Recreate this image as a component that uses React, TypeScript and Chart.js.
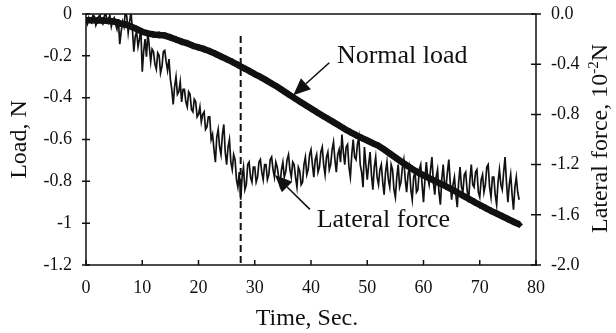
import React, { useEffect, useRef } from "react";
import { Chart, registerables } from "chart.js";

Chart.register(...registerables);

// ---------- data ----------
const normalTime = [
  0, 1, 2, 3, 4, 5, 6, 7, 8, 9,
  10, 11, 12, 13, 14, 15, 16, 17, 18, 19,
  20, 21, 22, 23, 24, 25, 26, 27, 28, 29,
  30, 31, 32, 33, 34, 35, 36, 37, 38, 39,
  40, 41, 42, 43, 44, 45, 46, 47, 48, 49,
  50, 51, 52, 53, 54, 55, 56, 57, 58, 59,
  60, 61, 62, 63, 64, 65, 66, 67, 68, 69,
  70, 71, 72, 73, 74, 75, 76, 77,
];
// Load, N (left axis)
const normalLoad = [
  -0.03, -0.03, -0.031, -0.031, -0.033, -0.036, -0.045, -0.05, -0.06, -0.072,
  -0.085, -0.093, -0.098, -0.1, -0.103, -0.112, -0.122, -0.132, -0.14, -0.152,
  -0.16, -0.168, -0.178, -0.19, -0.203, -0.216, -0.229, -0.243, -0.258, -0.272,
  -0.287, -0.301, -0.316, -0.332, -0.348, -0.366, -0.384, -0.401, -0.418, -0.435,
  -0.452, -0.469, -0.485, -0.501, -0.517, -0.533, -0.55, -0.565, -0.579, -0.592,
  -0.605, -0.618, -0.63, -0.648, -0.667, -0.686, -0.705, -0.723, -0.741, -0.757,
  -0.771, -0.785, -0.798, -0.811, -0.824, -0.838, -0.853, -0.868, -0.883, -0.898,
  -0.913, -0.927, -0.941, -0.954, -0.967, -0.98, -0.993, -1.006,
];

const lateralTime = [
  0, 0.25, 0.5, 0.75, 1, 1.25, 1.5, 1.75, 2, 2.25, 2.5, 2.75, 3, 3.25, 3.5, 3.75, 4, 4.25, 4.5, 4.75,
  5, 5.25, 5.5, 5.75, 6, 6.25, 6.5, 6.75, 7, 7.25, 7.5, 7.75, 8, 8.25, 8.5, 8.75, 9, 9.25, 9.5, 9.75,
  10, 10.25, 10.5, 10.75, 11, 11.25, 11.5, 11.75, 12, 12.25, 12.5, 12.75, 13, 13.25, 13.5, 13.75, 14, 14.25, 14.5, 14.75,
  15, 15.25, 15.5, 15.75, 16, 16.25, 16.5, 16.75, 17, 17.25, 17.5, 17.75, 18, 18.25, 18.5, 18.75, 19, 19.25, 19.5, 19.75,
  20, 20.25, 20.5, 20.75, 21, 21.25, 21.5, 21.75, 22, 22.25, 22.5, 22.75, 23, 23.25, 23.5, 23.75, 24, 24.25, 24.5, 24.75,
  25, 25.25, 25.5, 25.75, 26, 26.25, 26.5, 26.75, 27, 27.25, 27.5, 27.75, 28, 28.25, 28.5, 28.75, 29, 29.25, 29.5, 29.75,
  30, 30.25, 30.5, 30.75, 31, 31.25, 31.5, 31.75, 32, 32.25, 32.5, 32.75, 33, 33.25, 33.5, 33.75, 34, 34.25, 34.5, 34.75,
  35, 35.25, 35.5, 35.75, 36, 36.25, 36.5, 36.75, 37, 37.25, 37.5, 37.75, 38, 38.25, 38.5, 38.75, 39, 39.25, 39.5, 39.75,
  40, 40.25, 40.5, 40.75, 41, 41.25, 41.5, 41.75, 42, 42.25, 42.5, 42.75, 43, 43.25, 43.5, 43.75, 44, 44.25, 44.5, 44.75,
  45, 45.25, 45.5, 45.75, 46, 46.25, 46.5, 46.75, 47, 47.25, 47.5, 47.75, 48, 48.25, 48.5, 48.75, 49, 49.25, 49.5, 49.75,
  50, 50.25, 50.5, 50.75, 51, 51.25, 51.5, 51.75, 52, 52.25, 52.5, 52.75, 53, 53.25, 53.5, 53.75, 54, 54.25, 54.5, 54.75,
  55, 55.25, 55.5, 55.75, 56, 56.25, 56.5, 56.75, 57, 57.25, 57.5, 57.75, 58, 58.25, 58.5, 58.75, 59, 59.25, 59.5, 59.75,
  60, 60.25, 60.5, 60.75, 61, 61.25, 61.5, 61.75, 62, 62.25, 62.5, 62.75, 63, 63.25, 63.5, 63.75, 64, 64.25, 64.5, 64.75,
  65, 65.25, 65.5, 65.75, 66, 66.25, 66.5, 66.75, 67, 67.25, 67.5, 67.75, 68, 68.25, 68.5, 68.75, 69, 69.25, 69.5, 69.75,
  70, 70.25, 70.5, 70.75, 71, 71.25, 71.5, 71.75, 72, 72.25, 72.5, 72.75, 73, 73.25, 73.5, 73.75, 74, 74.25, 74.5, 74.75,
  75, 75.25, 75.5, 75.75, 76, 76.25, 76.5, 76.75, 77,
];
// Lateral force, 10^-2 N (right axis)
const lateralForce = [
  -0.05, -0.08, -0.03, -0.06, -0.07, -0.01, -0.02, -0.09, -0.06, -0.02, -0.01, -0.07, -0.08, -0.02, 0.01, -0.06, -0.04, -0.01, -0.1, -0.05,
  -0.03, -0.08, -0.12, -0.04, -0.24, -0.14, -0.06, -0.1, 0.02, -0.02, -0.15, -0.06, 0.01, -0.12, -0.3, -0.18, -0.14, -0.26, -0.2, -0.12,
  -0.46, -0.3, -0.2, -0.34, -0.15, -0.26, -0.38, -0.28, -0.3, -0.4, -0.44, -0.31, -0.33, -0.47, -0.42, -0.3, -0.29, -0.38, -0.45, -0.36,
  -0.52, -0.6, -0.72, -0.58, -0.5, -0.64, -0.62, -0.54, -0.7, -0.6, -0.6, -0.7, -0.74, -0.62, -0.64, -0.76, -0.78, -0.68, -0.7, -0.82,
  -0.8, -0.74, -0.86, -0.8, -0.78, -0.92, -0.9, -0.82, -0.82, -1.0, -0.96, -1.08, -1.18, -0.98, -0.92, -1.06, -1.12, -0.96, -0.88, -1.1,
  -1.2, -1.06, -1.0, -1.18, -1.24, -1.12, -1.16, -1.32, -1.38, -1.26, -1.48, -1.3, -1.22, -1.4, -1.36, -1.2, -1.18, -1.3, -1.34, -1.22,
  -1.22, -1.34, -1.3, -1.18, -1.16, -1.26, -1.32, -1.2, -1.2, -1.32, -1.28, -1.16, -1.14, -1.24, -1.3, -1.18, -1.22, -1.3, -1.36, -1.24,
  -1.18, -1.3, -1.26, -1.16, -1.12, -1.24, -1.3, -1.18, -1.2, -1.3, -1.38, -1.22, -1.25, -1.36, -1.34, -1.2, -1.14, -1.28, -1.24, -1.12,
  -1.08, -1.2, -1.3, -1.16, -1.12, -1.26, -1.22, -1.1, -1.06, -1.2, -1.28, -1.14, -1.1, -1.24, -1.2, -1.08, -1.02, -1.16, -1.26, -1.12,
  -1.08, -1.18, -0.96, -1.1, -1.2, -1.06, -1.04, -1.22, -1.3, -1.12, -1.0, -1.14, -1.16, -1.04, -0.98, -1.2, -1.26, -1.38, -1.06, -1.2,
  -1.32, -1.2, -1.1, -1.28, -1.4, -1.22, -1.14, -1.3, -1.36, -1.24, -1.2, -1.34, -1.44, -1.26, -1.18, -1.32, -1.38, -1.2, -1.24, -1.4,
  -1.46, -1.3, -1.2, -1.38, -1.34, -1.22, -1.16, -1.32, -1.42, -1.28, -1.22, -1.4, -1.48, -1.3, -1.26, -1.42, -1.4, -1.24, -1.2, -1.36,
  -1.5, -1.32, -1.18, -1.3, -1.36, -1.24, -1.14, -1.34, -1.44, -1.3, -1.24, -1.42, -1.52, -1.32, -1.2, -1.36, -1.38, -1.26, -1.16, -1.34,
  -1.48, -1.36, -1.3, -1.44, -1.54, -1.34, -1.22, -1.38, -1.42, -1.28, -1.26, -1.4, -1.5, -1.32, -1.2, -1.36, -1.38, -1.26, -1.24, -1.42,
  -1.46, -1.32, -1.28, -1.42, -1.36, -1.22, -1.2, -1.38, -1.46, -1.3, -1.3, -1.44, -1.52, -1.34, -1.24, -1.36, -1.4, -1.26, -1.14, -1.34,
  -1.5, -1.36, -1.28, -1.44, -1.56, -1.38, -1.3, -1.42, -1.48,
];

const xTicks = [0, 10, 20, 30, 40, 50, 60, 70, 80];
const xTickLabels = ["0", "10", "20", "30", "40", "50", "60", "70", "80"];
const loadTicks = [-1.2, -1, -0.8, -0.6, -0.4, -0.2, 0];
const loadTickLabels = ["-1.2", "-1", "-0.8", "-0.6", "-0.4", "-0.2", "0"];
const lateralTicks = [-2, -1.6, -1.2, -0.8, -0.4, 0];
const lateralTickLabels = ["-2.0", "-1.6", "-1.2", "-0.8", "-0.4", "0.0"];

const markerTime = 27.5; // dashed vertical line (s)
const markerTopLoad = -0.105;

// annotation placement (time, load-axis units)
const normalNote = { text: "Normal load", t: 44.6, v: -0.234, tailT: 43.25, tailV: -0.233, tipT: 36.85, tipV: -0.388 };
const lateralNote = { text: "Lateral force", t: 41.0, v: -1.018, tailT: 39.8, tailV: -0.934, tipT: 33.6, tipV: -0.77 };

const INK = "#111111";
const SERIF = "'Liberation Serif', 'Times New Roman', serif";

function labelFor(values: number[], labels: string[], v: number) {
  const i = values.findIndex((t) => Math.abs(t - v) < 1e-6);
  return i >= 0 ? labels[i] : "";
}

function drawArrow(ctx: CanvasRenderingContext2D, x1: number, y1: number, x2: number, y2: number) {
  const ang = Math.atan2(y2 - y1, x2 - x1);
  const len = 17;
  const half = 7.5;
  const bx = x2 - len * Math.cos(ang);
  const by = y2 - len * Math.sin(ang);
  ctx.beginPath();
  ctx.moveTo(x1, y1);
  ctx.lineTo(bx, by);
  ctx.lineWidth = 1.6;
  ctx.stroke();
  ctx.beginPath();
  ctx.moveTo(x2, y2);
  ctx.lineTo(bx + half * Math.sin(ang), by - half * Math.cos(ang));
  ctx.lineTo(bx - half * Math.sin(ang), by + half * Math.cos(ang));
  ctx.closePath();
  ctx.fill();
}

const decor = {
  id: "decor",
  afterDatasetsDraw(chart: any) {
    const { ctx, chartArea: a, scales } = chart;
    const sx = scales.x;
    const yl = scales.y;
    const yr = scales.y2;
    ctx.save();
    ctx.strokeStyle = INK;
    ctx.fillStyle = INK;
    ctx.lineWidth = 1.5;
    ctx.strokeRect(a.left, a.top, a.right - a.left, a.bottom - a.top);

    ctx.beginPath();
    xTicks.forEach((v) => {
      const px = sx.getPixelForValue(v);
      ctx.moveTo(px, a.bottom);
      ctx.lineTo(px, a.bottom - 5);
    });
    loadTicks.forEach((v) => {
      const py = yl.getPixelForValue(v);
      ctx.moveTo(a.left - 4, py);
      ctx.lineTo(a.left + 4, py);
    });
    lateralTicks.forEach((v) => {
      const py = yr.getPixelForValue(v);
      ctx.moveTo(a.right - 5, py);
      ctx.lineTo(a.right + 5, py);
    });
    ctx.stroke();

    // dashed marker
    const mx = sx.getPixelForValue(markerTime);
    ctx.beginPath();
    ctx.setLineDash([7, 4]);
    ctx.lineWidth = 2;
    ctx.moveTo(mx, yl.getPixelForValue(markerTopLoad));
    ctx.lineTo(mx, a.bottom);
    ctx.stroke();
    ctx.setLineDash([]);

    // annotations
    [normalNote, lateralNote].forEach((n) => {
      drawArrow(
        ctx,
        sx.getPixelForValue(n.tailT),
        yl.getPixelForValue(n.tailV),
        sx.getPixelForValue(n.tipT),
        yl.getPixelForValue(n.tipV)
      );
      ctx.font = `26px ${SERIF}`;
      ctx.textAlign = "left";
      ctx.textBaseline = "alphabetic";
      ctx.fillText(n.text, sx.getPixelForValue(n.t), yl.getPixelForValue(n.v));
    });

    // x title
    ctx.font = `24px ${SERIF}`;
    ctx.textAlign = "center";
    ctx.textBaseline = "alphabetic";
    ctx.fillText("Time, Sec.", 307, 325);

    // left title
    const cy = (a.top + a.bottom) / 2;
    ctx.save();
    ctx.translate(25.5, cy);
    ctx.rotate(-Math.PI / 2);
    ctx.fillText("Load, N", 0, 0);
    ctx.restore();

    // right title with superscript
    ctx.save();
    ctx.translate(607, cy - 1);
    ctx.rotate(-Math.PI / 2);
    ctx.textAlign = "left";
    const main = "Lateral force, 10";
    const sup = "-2";
    const tail = "N";
    ctx.font = `24px ${SERIF}`;
    const w1 = ctx.measureText(main).width;
    const w3 = ctx.measureText(tail).width;
    ctx.font = `15px ${SERIF}`;
    const w2 = ctx.measureText(sup).width;
    const start = -(w1 + w2 + w3) / 2;
    ctx.font = `24px ${SERIF}`;
    ctx.fillText(main, start, 0);
    ctx.fillText(tail, start + w1 + w2, 0);
    ctx.font = `15px ${SERIF}`;
    ctx.fillText(sup, start + w1, -9);
    ctx.restore();

    ctx.restore();
  },
};

function zeroPad(s: any) {
  s.paddingTop = 0;
  s.paddingBottom = 0;
  s.paddingLeft = 0;
  s.paddingRight = 0;
}

export default function App() {
  const ref = useRef<HTMLCanvasElement>(null);

  useEffect(() => {
    if (!ref.current) return;
    const tickFont = { family: SERIF, size: 18 };
    const chart = new Chart(ref.current, {
      type: "line",
      data: {
        datasets: [
          {
            label: "Normal load",
            data: normalTime.map((t, i) => ({ x: t, y: normalLoad[i] })),
            yAxisID: "y",
            borderColor: INK,
            backgroundColor: INK,
            borderWidth: 6.5,
            pointStyle: "rectRot",
            pointRadius: 3.8,
            pointBorderWidth: 0,
            pointBackgroundColor: INK,
            tension: 0,
          },
          {
            label: "Lateral force",
            data: lateralTime.map((t, i) => ({ x: t, y: lateralForce[i] })),
            yAxisID: "y2",
            borderColor: INK,
            borderWidth: 1.7,
            pointRadius: 0,
            tension: 0,
          },
        ],
      },
      options: {
        responsive: false,
        devicePixelRatio: 1,
        animation: false,
        layout: { padding: { top: 14, left: 0, right: 0, bottom: 0 } },
        plugins: { legend: { display: false }, tooltip: { enabled: false } },
        scales: {
          x: {
            type: "linear",
            position: "bottom",
            min: 0,
            max: 80,
            afterBuildTicks: (s: any) => {
              s.ticks = xTicks.map((value) => ({ value }));
            },
            afterFit: (s: any) => {
              s.height = 68;
              zeroPad(s);
            },
            grid: { display: false, drawTicks: false },
            border: { display: false },
            ticks: {
              color: INK,
              font: tickFont,
              padding: 12,
              maxRotation: 0,
              autoSkip: false,
              callback: (v: any) => labelFor(xTicks, xTickLabels, Number(v)),
            },
          },
          y: {
            type: "linear",
            position: "left",
            min: -1.2,
            max: 0,
            afterBuildTicks: (s: any) => {
              s.ticks = loadTicks.map((value) => ({ value }));
            },
            afterFit: (s: any) => {
              s.width = 86;
              zeroPad(s);
            },
            grid: { display: false, drawTicks: false },
            border: { display: false },
            ticks: {
              color: INK,
              font: tickFont,
              padding: 14,
              autoSkip: false,
              callback: (v: any) => labelFor(loadTicks, loadTickLabels, Number(v)),
            },
          },
          y2: {
            type: "linear",
            position: "right",
            min: -2,
            max: 0,
            afterBuildTicks: (s: any) => {
              s.ticks = lateralTicks.map((value) => ({ value }));
            },
            afterFit: (s: any) => {
              s.width = 80;
              zeroPad(s);
            },
            grid: { display: false, drawTicks: false },
            border: { display: false },
            ticks: {
              color: INK,
              font: tickFont,
              padding: 15,
              autoSkip: false,
              callback: (v: any) => labelFor(lateralTicks, lateralTickLabels, Number(v)),
            },
          },
        },
      },
      plugins: [decor],
    } as any);
    return () => chart.destroy();
  }, []);

  return (
    <div style={{ position: "absolute", left: 0, top: 0, width: 616, height: 333, background: "#fff" }}>
      <canvas ref={ref} width={616} height={333} style={{ display: "block", width: 616, height: 333 }} />
    </div>
  );
}
